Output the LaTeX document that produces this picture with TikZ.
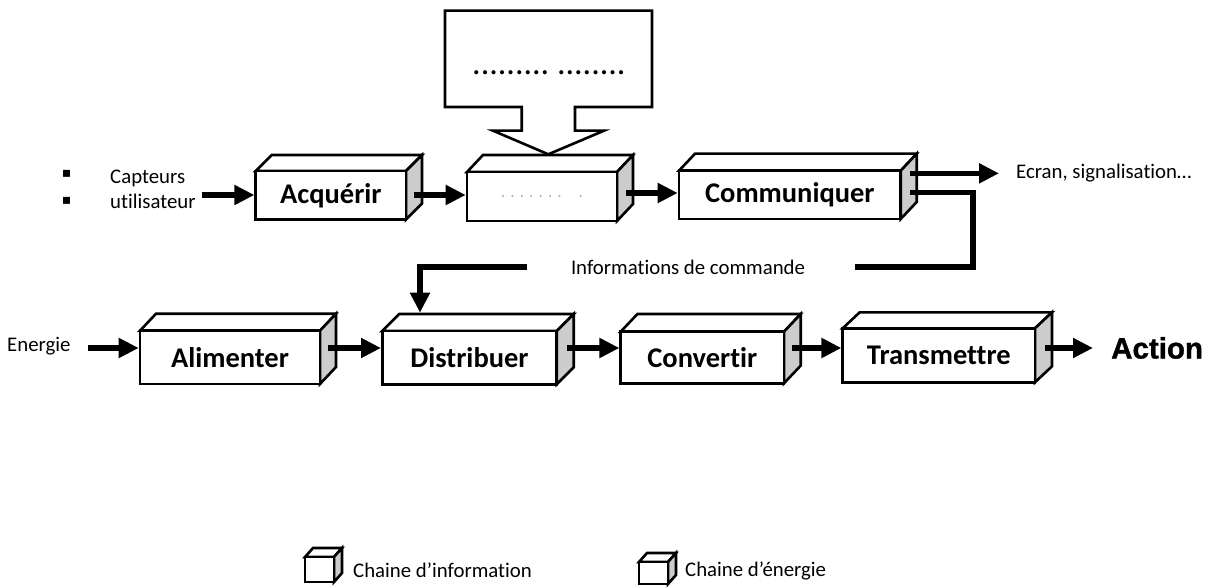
\documentclass[tikz,border=0pt]{standalone}
\usepackage{fontspec}
\setmainfont{Carlito}[Ligatures=NoCommon]
\newfontfamily\actionfont{Liberation Sans}[BoldFeatures={FakeBold=1.2}]
\newfontfamily\dvsfont{DejaVu Sans}
\usetikzlibrary{arrows.meta}
\definecolor{sidegray}{RGB}{204,204,204}
\definecolor{dotgray}{RGB}{175,175,175}
\tikzset{
  edge/.style={draw=black, line width=2.6pt, fill=white, line join=miter},
  front/.style={edge, rectangle, inner sep=0pt, font=\bfseries\fontsize{28.5}{30}\selectfont},
  arr/.style={line width=5.3pt, -{Triangle[length=20pt,width=19pt]}},
  flux/.style={line width=5.3pt},
  txt/.style={inner sep=0pt, font=\fontsize{20.8}{25}\selectfont},
}
% 3D block: #1 name, #2 left, #3 top, #4 right, #5 bottom (front face), #6 depth x, #7 depth y, #8 label
\newcommand\blocbox[8]{%
  \path[edge] (#2,#3) -- (#2+#6,#3-#7) -- (#4+#6,#3-#7) -- (#4,#3) -- cycle;
  \path[edge,fill=sidegray] (#4,#3) -- (#4+#6,#3-#7) -- (#4+#6,#5-#7) -- (#4,#5) -- cycle;
  \node[front, minimum width={#4-#2}, minimum height={#5-#3}] (#1) at ({(#2+#4)/2},{(#3+#5)/2}) {#8};
}
\begin{document}
\begin{tikzpicture}[x=1pt,y=-1pt]
\useasboundingbox (0,0) rectangle (1216,588);

% reference lines for the flows
\coordinate (row1) at (0,195);
\coordinate (row1b) at (0,193);
\coordinate (row2) at (0,348);

% ---- information chain ----
\blocbox{acq}{255.7}{171}{406}{219.5}{16}{16}{Acquérir}
\blocbox{mid}{467}{172}{617}{221}{16}{17}{\mdseries\fontsize{17}{20}\selectfont\color{dotgray}. . . . . . .\hspace{17pt}.}
\blocbox{com}{679}{170.7}{900.7}{219}{16}{17}{Communiquer}

% speech bubble above the processing block
\path[edge] (445,10.7) -- (652,10.7) -- (652,107) -- (575,107) -- (575,130.7)
  -- (604,130.7) -- (548.3,154.3) -- (493,130.7) -- (521.7,130.7) -- (521.7,107)
  -- (445,107) -- cycle;
\node[inner sep=0pt, anchor=base, font=\fontsize{34}{36}\selectfont] (bulle) at (549,74.5) {.........\ ........};

% inputs
\node[inner sep=0pt, font=\dvsfont\fontsize{14}{14}\selectfont] (puce1) at (66.5,174) {▪};
\node[inner sep=0pt, font=\dvsfont\fontsize{14}{14}\selectfont] (puce2) at (66.5,200.5) {▪};
\node[txt, anchor=west, align=left] (capt) at (110,189) {Capteurs\\utilisateur};

\draw[arr] (capt.east |- row1) ++(6,0) -- (acq.west |- row1);
\draw[arr] (acq.east |- row1) ++(7,0) -- (mid.west |- row1);
\draw[arr] (mid.east |- row1b) ++(8,0) -- (com.west |- row1b);

% outputs of Communiquer
\node[txt, anchor=west] (ecran) at ([xshift=114pt,yshift=21.5pt]com.east) {Ecran, signalisation…};
\draw[arr] (com.east) ++(8,-21.5) -- ([xshift=-17pt]ecran.west);

\node[txt, anchor=base] (infocmd) at (688,275) {Informations de commande};
\coordinate (cornerR) at (973,267);
\coordinate (gapR) at (855,267);
\coordinate (gapL) at (527,267);
\draw[flux] (com.east) ++(8,-2) -| (cornerR) -- (gapR);

% ---- energy chain ----
\blocbox{alim}{140}{330.7}{320}{384}{16}{17}{Alimenter}
\blocbox{dist}{382.3}{331}{556.7}{384.3}{17}{17}{Distribuer}
\blocbox{conv}{620.7}{331.7}{784}{383.3}{16.7}{17.7}{Convertir}
\blocbox{trans}{842.7}{328.3}{1035}{382.3}{17}{16}{Transmettre}

\coordinate (distin) at ([xshift=39pt,yshift=17pt]dist.north west);
\draw[arr] (gapL) -| (distin);

\node[txt, anchor=west] (energ) at (7,346) {Energie};
\node[inner sep=0pt, anchor=west, font=\actionfont\bfseries\fontsize{29.5}{32}\selectfont] (action) at (1111,348) {Action};

\draw[arr] (energ.east |- row2) ++(17,0) -- (alim.west |- row2);
\draw[arr] (alim.east |- row2) ++(7,0) -- (dist.west |- row2);
\draw[arr] (dist.east |- row2) ++(9,0) -- (conv.west |- row2);
\draw[arr] (conv.east |- row2) ++(7,0) -- (trans.west |- row2);
\draw[arr] (trans.east |- row2) ++(9,0) -- ([xshift=-18pt]action.west |- row2);

% ---- legend ----
\blocbox{leginfo}{305}{557}{334}{582}{8}{9}{}
\node[txt, anchor=west] (txtinfo) at (353,570) {Chaine d’information};
\blocbox{legener}{639}{562}{668}{584}{8}{9}{}
\node[txt, anchor=west] (txtener) at (685,571) {Chaine d’énergie};
\end{tikzpicture}
\end{document}
